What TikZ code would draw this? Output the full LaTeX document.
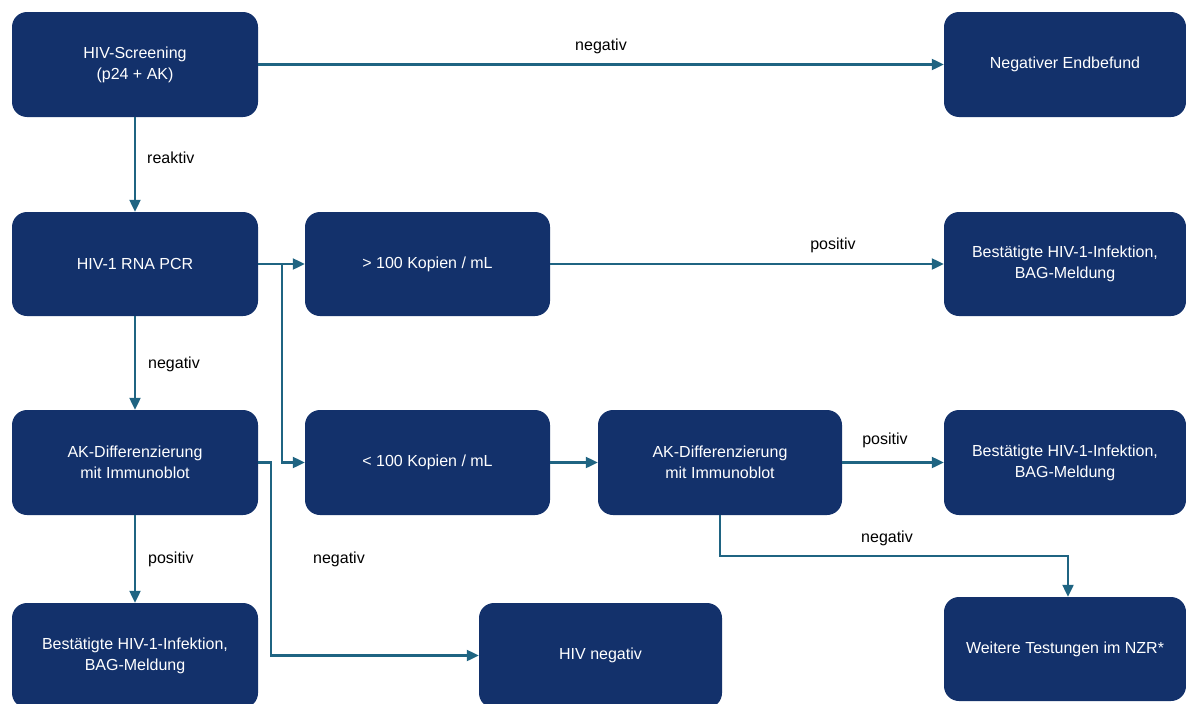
\documentclass[tikz,border=0pt]{standalone}
\usepackage{fontspec}
\setmainfont{Liberation Sans}
\usetikzlibrary{arrows.meta}
\definecolor{boxblue}{RGB}{19,49,107}
\definecolor{linkteal}{RGB}{31,100,130}
\tikzset{
  box/.style={draw=none, fill=boxblue, rounded corners=15pt, text=white, align=center,
    font=\fontsize{16}{21}\selectfont, inner sep=0pt},
  conn/.style={draw=linkteal, line width=2.2pt, -{Triangle[length=12pt,width=11pt]}},
  lab/.style={font=\fontsize{16}{19}\selectfont, text=black, inner sep=0pt}
}
\begin{document}
\begin{tikzpicture}[x=1pt,y=-1pt]
\useasboundingbox (0,0) rectangle (1186,704);
% boxes
\node[box, minimum width=246pt, minimum height=105pt] (s) at (135,64.5) {HIV-Screening\\(p24 + AK)};
\node[box, minimum width=242pt, minimum height=105pt] (neg) at (1065,64.5) {Negativer Endbefund};
\node[box, minimum width=246pt, minimum height=104pt] (pcr) at (135,264) {HIV-1 RNA PCR};
\node[box, minimum width=245pt, minimum height=104pt] (hi) at (427.5,264) {> 100 Kopien / mL};
\node[box, minimum width=242pt, minimum height=104pt] (bp1) at (1065,264) {Bestätigte HIV-1-Infektion,\\BAG-Meldung};
\node[box, minimum width=246pt, minimum height=105pt] (ak1) at (135,462.5) {AK-Differenzierung\\mit Immunoblot};
\node[box, minimum width=245pt, minimum height=105pt] (lo) at (427.5,462.5) {< 100 Kopien / mL};
\node[box, minimum width=244pt, minimum height=105pt] (ak2) at (720,462.5) {AK-Differenzierung\\mit Immunoblot};
\node[box, minimum width=242pt, minimum height=105pt] (bp2) at (1065,462.5) {Bestätigte HIV-1-Infektion,\\BAG-Meldung};
\node[box, minimum width=246pt, minimum height=105pt] (bp3) at (135,655.5) {Bestätigte HIV-1-Infektion,\\BAG-Meldung};
\node[box, minimum width=243pt, minimum height=105pt] (hn) at (600.5,655.5) {HIV negativ};
\node[box, minimum width=242pt, minimum height=104pt] (wt) at (1065,649) {Weitere Testungen im NZR*};
% connectors
\draw[conn] (s.east) -- (neg.west);
\node[lab] (l1) at (601,46) {negativ};
\draw[conn] (s.south) -- (pcr.north);
\node[lab, anchor=west] (l2) at (147,158) {reaktiv};
\draw[conn] (pcr.east) -- (hi.west);
\draw[conn] (pcr.east) -- ++(24,0) |- (lo.west);
\draw[conn] (hi.east) -- (bp1.west);
\node[lab] (l3) at (833,245) {positiv};
\draw[conn] (pcr.south) -- (ak1.north);
\node[lab, anchor=west] (l4) at (148,364) {negativ};
\draw[conn] (ak1.east) -- ++(13,0) |- (hn.west);
\node[lab] (l5) at (339,559) {negativ};
\draw[conn] (ak1.south) -- (bp3.north);
\node[lab, anchor=west] (l6) at (148,559) {positiv};
\draw[conn] (lo.east) -- (ak2.west);
\draw[conn] (ak2.east) -- (bp2.west);
\node[lab] (l7) at (885,440) {positiv};
\draw[conn] (ak2.south) -- ++(0,41) -| ([xshift=3pt]wt.north);
\node[lab] (l8) at (887,538) {negativ};
\end{tikzpicture}
\end{document}
